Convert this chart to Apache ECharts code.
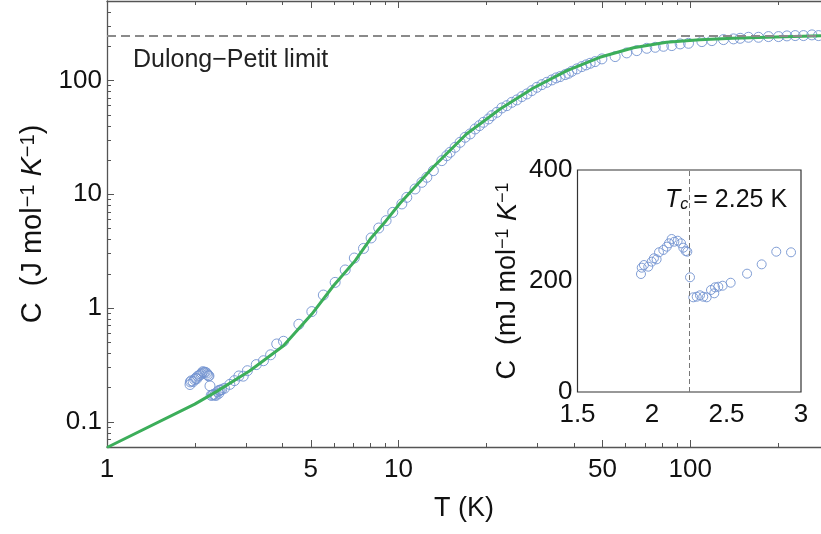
<!DOCTYPE html>
<html>
<head>
<meta charset="utf-8">
<script src="https://cdn.jsdelivr.net/npm/echarts@6/dist/echarts.min.js"></script>
<style>
  html, body { margin: 0; padding: 0; background: #fff; }
  #chart { width: 821px; height: 534px; }
</style>
</head>
<body>
<div id="chart"></div>
<script>
// Specific heat around the superconducting transition (mJ mol^-1 K^-1)
const lowT = [1.926, 1.931, 1.946, 1.975, 1.998, 2.013, 2.031, 2.047, 2.076, 2.099, 2.114, 2.132,
  2.150, 2.172, 2.195, 2.210, 2.226, 2.237, 2.255, 2.277, 2.300, 2.322, 2.344, 2.367, 2.396, 2.418,
  2.423, 2.445, 2.474, 2.528, 2.638, 2.736, 2.834, 2.933];
const lowC = [212.6, 224.0, 228.8, 225.8, 234.8, 240.9, 239.0, 251.7, 255.9, 261.8, 267.9, 275.7,
  270.8, 272.6, 267.9, 260.0, 254.0, 252.8, 206.7, 170.6, 171.7, 174.2, 171.7, 170.6, 183.8, 177.8,
  188.6, 189.7, 191.5, 196.9, 213.2, 230.0, 252.8, 251.7];

// Specific heat above 3 K (J mol^-1 K^-1)
const highT = [3.03, 3.25, 3.44, 3.64, 3.82, 4.03, 4.55, 5.04, 5.52, 6.06, 6.56, 7.05, 7.58, 8.05,
  8.55, 9.06, 9.55, 10.26, 10.67, 11.39, 12.02, 12.50, 13.16, 14.07, 14.63, 15.02, 15.62, 16.25,
  16.91, 17.59, 18.30, 18.93, 19.54, 20.33, 20.88, 21.73, 22.6, 23.5, 24.45, 25.44, 26.47, 27.54,
  28.64, 29.8, 31.0, 32.24, 33.54, 34.7, 35.8, 37.26, 38.25, 39.29, 40.87, 42.5, 43.98, 45.4, 47.2,
  49.8, 55.3, 60.6, 65.6, 71.0, 75.9, 81.0, 86.5, 92.4, 98.7, 109.7, 118.7, 130.1, 140.8, 148.4,
  158.5, 171.5, 185.6, 200.9, 214.7, 229.2, 244.7, 261.5, 275.5];
const highC = [0.281, 0.318, 0.344, 0.388, 0.483, 0.51, 0.72, 0.93, 1.30, 1.68, 2.16, 2.75, 3.34, 4.13,
  5.05, 5.86, 6.93, 8.22, 9.39, 11.13, 12.73, 14.09, 16.13, 19.75, 21.85, 23.36, 25.85, 28.6,
  31.67, 33.9, 37.5, 40.1, 42.9, 45.9, 49.1, 52.5, 57.4, 60.1, 64.3, 67.5, 72.2, 76.2,
  81.5, 87.1, 92.0, 96.4, 101.2, 105.4, 108.2, 112.7, 115.7, 120.5, 126.5, 132.5, 137.2, 141.7, 146.6,
  154.9, 162.3, 174.9, 183.2, 192.0, 195.9, 199.9, 202.8, 209.8, 212.4, 219.8, 224.3, 228.9, 232.2, 235.0,
  239.9, 239.9, 243.3, 243.3, 246.7, 248.3, 248.3, 251.8, 248.3];

// Model curve (J mol^-1 K^-1)
const fitT = [1, 2.0, 2.38, 3.09, 4.03, 5.04, 5.98, 7.1, 8.05, 9.06, 10.1, 11.1, 13.1, 17.1, 22.3,
  29.0, 37.8, 49.0, 63.9, 83, 108, 140, 183, 281];
const fitC = [0.0594, 0.143, 0.185, 0.281, 0.466, 0.885, 1.57, 2.61, 4.13, 5.86, 8.3, 10.8, 17.2, 33.9,
  56.2, 86, 122, 160, 194, 217, 228, 235, 240, 248];

const dulongPetit = 249.4;
const tc = 2.25;

// Tick values
const xMajor = [1, 5, 10, 50, 100];
const xMinor = [2, 3, 4, 6, 7, 8, 9, 20, 30, 40, 60, 70, 80, 90, 200];
const yMajor = [0.1, 1, 10, 100];
const yMinor = [0.07, 0.08, 0.09, 0.2, 0.3, 0.4, 0.5, 0.6, 0.7, 0.8, 0.9, 2, 3, 4, 5, 6, 7, 8, 9,
  20, 30, 40, 50, 60, 70, 80, 90, 200, 300, 400];
const insetXTicks = [1.5, 2, 2.5, 3];
const insetYTicks = [0, 200, 400];

const FONT = 'Liberation Sans, Arial, sans-serif';
const AXIS = '#555';
const BLUE = '#7393d0';
const GREEN = '#3cae5a';
const INK = '#111';

const mainData = lowT.map((t, i) => [t, lowC[i] / 1000])
  .concat(highT.map((t, i) => [t, highC[i]]));
const fitData = fitT.map((t, i) => [t, fitC[i]]);
const insetData = lowT.map((t, i) => [t, lowC[i]]);

const X_MIN = 1, X_MAX = 281, Y_MIN = 0.06, Y_MAX = 500;

function logX(position, ticks, len, showLine, extra) {
  return Object.assign({
    type: 'log', logBase: 10, gridIndex: 0, min: X_MIN, max: X_MAX, position: position,
    axisLine: { show: showLine, lineStyle: { color: AXIS, width: 1.3 } },
    axisTick: { show: true, inside: true, length: len, customValues: ticks,
      lineStyle: { color: AXIS, width: 1 } },
    axisLabel: { show: false },
    splitLine: { show: false }, minorTick: { show: false }
  }, extra || {});
}
function logY(ticks, len, showLine, extra) {
  return Object.assign({
    type: 'log', logBase: 10, gridIndex: 0, min: Y_MIN, max: Y_MAX, position: 'left',
    axisLine: { show: showLine, lineStyle: { color: AXIS, width: 1.3 } },
    axisTick: { show: true, inside: true, length: len, customValues: ticks,
      lineStyle: { color: AXIS, width: 1 } },
    axisLabel: { show: false },
    splitLine: { show: false }, minorTick: { show: false }
  }, extra || {});
}
function unitRich(main, sup) {
  return {
    n: { fontSize: main, fontFamily: FONT, color: INK },
    i: { fontSize: main, fontFamily: FONT, fontStyle: 'italic', color: INK },
    s: { fontSize: sup, fontFamily: FONT, color: INK, verticalAlign: 'top' }
  };
}

const chart = echarts.init(document.getElementById('chart'), null, { renderer: 'canvas' });

chart.setOption({
  animation: false,
  backgroundColor: '#fff',
  textStyle: { fontFamily: FONT },
  grid: [
    { left: 107, top: 1, right: 0, bottom: 87, containLabel: false },
    { left: 577.5, top: 170, right: 20, bottom: 142, containLabel: false,
      show: true, borderColor: '#333', borderWidth: 1.2, backgroundColor: 'transparent' }
  ],
  xAxis: [
    logX('bottom', xMajor, 7, true, {
      axisLabel: { show: true, customValues: xMajor, fontSize: 26, color: INK, margin: 10, fontFamily: FONT },
      name: 'T (K)', nameLocation: 'middle', nameGap: 48,
      nameTextStyle: { fontSize: 27, color: INK, fontFamily: FONT }
    }),
    logX('bottom', xMinor, 4, false),
    logX('top', xMajor, 7, true),
    logX('top', xMinor, 4, false),
    {
      type: 'value', gridIndex: 1, min: 1.5, max: 3, interval: 0.5, position: 'bottom',
      axisLine: { show: false },
      axisTick: { show: false },
      axisLabel: { customValues: insetXTicks, fontSize: 26, color: INK, margin: 10, fontFamily: FONT },
      splitLine: { show: false }
    }
  ],
  yAxis: [
    logY(yMajor, 7, true, {
      axisLabel: { show: true, customValues: yMajor, fontSize: 26, color: INK, margin: 5, fontFamily: FONT },
      name: '{n|C  (J mol}{s|−1}{n| }{i|K}{s|−1}{n|)}', nameLocation: 'middle', nameGap: 57, nameRotate: 90,
      nameTextStyle: { color: INK, fontFamily: FONT, rich: unitRich(29, 20) }
    }),
    logY(yMinor, 4, false),
    {
      type: 'value', gridIndex: 1, min: 0, max: 400, interval: 200, position: 'left',
      axisLine: { show: false },
      axisTick: { show: false },
      axisLabel: { customValues: insetYTicks, fontSize: 26, color: INK, margin: 5, fontFamily: FONT },
      splitLine: { show: false },
      name: '{n|C  (mJ mol}{s|−1}{n| }{i|K}{s|−1}', nameLocation: 'middle', nameGap: 56, nameRotate: 90,
      nameTextStyle: { color: INK, fontFamily: FONT, rich: unitRich(27, 18) }
    }
  ],
  graphic: [
    {
      type: 'text', left: 133, top: 48, silent: true,
      style: { text: 'Dulong−Petit limit', fontSize: 25, fontFamily: FONT, fill: '#222' }
    }
  ],
  series: [
    {
      name: 'C measured', type: 'scatter', xAxisIndex: 0, yAxisIndex: 0,
      data: mainData, symbol: 'circle', symbolSize: 10,
      itemStyle: { color: 'rgba(255,255,255,0)', borderColor: BLUE, borderWidth: 1, opacity: 0.9 },
      clip: true, z: 2,
      markLine: {
        silent: true, symbol: ['none', 'none'],
        label: { show: false },
        lineStyle: { color: '#8a8a8a', type: [9, 5], width: 2 },
        data: [{ yAxis: dulongPetit }]
      }
    },
    {
      name: 'model', type: 'line', xAxisIndex: 0, yAxisIndex: 0,
      data: fitData, showSymbol: false, smooth: false,
      lineStyle: { color: GREEN, width: 3 }, z: 3
    },
    {
      name: 'C inset', type: 'scatter', xAxisIndex: 4, yAxisIndex: 2,
      data: insetData, symbol: 'circle', symbolSize: 9,
      itemStyle: { color: 'rgba(255,255,255,0)', borderColor: BLUE, borderWidth: 1, opacity: 0.9 },
      z: 2,
      markLine: {
        silent: true, symbol: ['none', 'none'],
        label: { show: false },
        lineStyle: { color: '#777', type: [5, 3], width: 1 },
        data: [{ xAxis: tc }]
      },
      markPoint: {
        silent: true, symbol: 'circle', symbolSize: 0,
        itemStyle: { color: 'transparent' },
        data: [
          {
            coord: [tc, 346],
            label: {
              show: true, position: 'left', distance: 1,
              formatter: '{i|T}{s|c}',
              rich: {
                i: { fontSize: 25, fontStyle: 'italic', fontFamily: FONT, color: INK },
                s: { fontSize: 16, fontStyle: 'italic', fontFamily: FONT, color: INK, verticalAlign: 'bottom' }
              }
            }
          },
          {
            coord: [tc, 346],
            label: {
              show: true, position: 'right', distance: 4,
              formatter: '= 2.25 K', fontSize: 25, fontFamily: FONT, color: INK
            }
          }
        ]
      }
    }
  ]
});
</script>
</body>
</html>
